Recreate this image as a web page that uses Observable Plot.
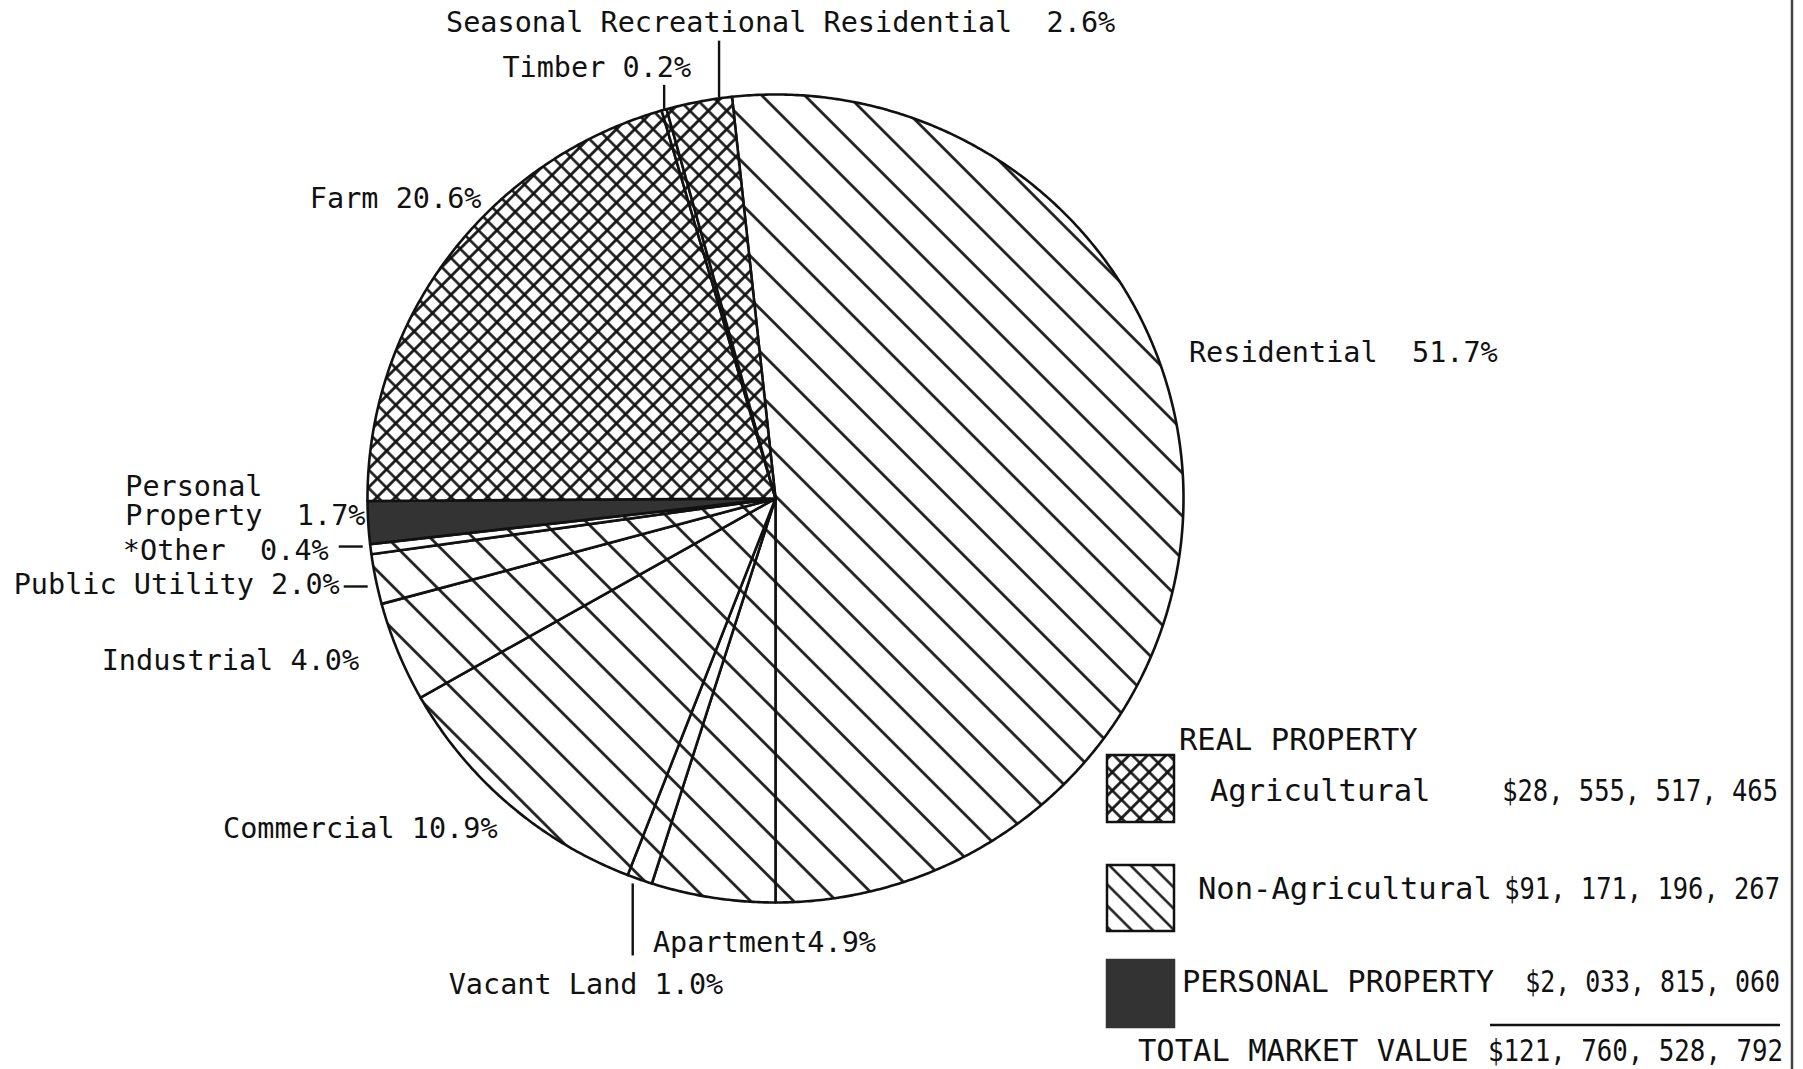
<!DOCTYPE html>
<html>
<head>
<meta charset="utf-8">
<script src="https://cdn.jsdelivr.net/npm/d3@7"></script>
<script src="https://cdn.jsdelivr.net/npm/@observablehq/plot@0.6"></script>
<style>
  html, body { margin: 0; padding: 0; background: #fff; }
  #chart { width: 1803px; height: 1069px; overflow: hidden; }
</style>
</head>
<body>
<div id="chart"></div>
<script>
// ---------------- DATA ----------------
const categories = ["Residential", "Apartment", "Vacant Land", "Commercial", "Industrial",
  "Public Utility", "*Other", "Personal Property", "Farm", "Timber", "Seasonal Recreational Residential"];
const percents = [51.7, 4.9, 1.0, 10.9, 4.0, 2.0, 0.4, 1.7, 20.6, 0.2, 2.6];
const groups = ["Non-Agricultural", "Non-Agricultural", "Non-Agricultural", "Non-Agricultural",
  "Non-Agricultural", "Non-Agricultural", "Non-Agricultural", "Personal",
  "Agricultural", "Agricultural", "Agricultural"];
const labelNames = ["Residential", "Apartment", "Vacant Land", "Commercial", "Industrial",
  "Public Utility", "*Other", "Personal\nProperty", "Farm", "Timber", "Seasonal Recreational Residential"];
const labelGaps = ["  ", "", " ", " ", " ", " ", "  ", "  ", " ", " ", "  "];

const legendTitle = "REAL PROPERTY";
const legendNames = ["Agricultural", "Non-Agricultural", "PERSONAL PROPERTY"];
const legendValues = [28555517465, 91171196267, 2033815060];
const totalName = "TOTAL MARKET VALUE";
const totalValue = 121760528792;

// ---------------- LAYOUT ----------------
const W = 1803, H = 1069;
const cx = 775, cy = 498, rx = 408, ry = 404;
const FONT = "'DejaVu Sans Mono', monospace";
const INK = "#111";

// label offsets (px) relative to the rim point at each slice's mid-angle
const layout = {
  "Residential": {anchor: "start", dx: 6, dy: -124},
  "Apartment": {anchor: "start", dx: -60, dy: 45},
  "Vacant Land": {anchor: "start", dx: -191, dy: 105, leader: [-7, 4, -7, 76]},
  "Commercial": {anchor: "end", dx: -11, dy: 25},
  "Industrial": {anchor: "end", dx: -39, dy: 9},
  "Public Utility": {anchor: "end", dx: -36, dy: 6, leader: [-32, 7.3, -8, 7.3]},
  "*Other": {anchor: "end", dx: -42, dy: 2, leader: [-32, -2.6, -8, -2.6]},
  "Personal Property": {anchor: "start", dx: -243, dy: -21},
  "Farm": {anchor: "end", dx: 33, dy: -58},
  "Timber": {anchor: "end", dx: 27, dy: -42, leader: [0, -25, 0, -1]},
  "Seasonal Recreational Residential": {anchor: "start", dx: -253, dy: -79, leader: [20, -61, 20, -4]}
};

// ---------------- GEOMETRY FROM DATA ----------------
const total = d3.sum(percents);
const startDeg = 180 - percents[0] / total * 360; // Residential ends at the bottom
let acc = startDeg;
const slices = categories.map((name, i) => {
  const a0 = acc, a1 = acc + percents[i] / total * 360;
  acc = a1;
  return {name, group: groups[i], a0, a1, mid: (a0 + a1) / 2, i};
});
const fills = {"Agricultural": "url(#agri)", "Non-Agricultural": "url(#nonag)", "Personal": "#333"};
const rad = d => d * Math.PI / 180;

const pts = slices.flatMap(s => {
  const n = Math.max(2, Math.ceil((s.a1 - s.a0) / 0.4));
  const arc = d3.range(n + 1).map(k => {
    const a = rad(s.a0 + (s.a1 - s.a0) * k / n);
    return {name: s.name, fill: fills[s.group], x: Math.sin(a), y: Math.cos(a)};
  });
  const c = {name: s.name, fill: fills[s.group], x: 0, y: 0};
  return [c, ...arc, c];
});

const labels = slices.map(s => {
  const L = layout[s.name];
  const a = rad(s.mid);
  const ux = Math.sin(a), uy = Math.cos(a);
  return {
    text: labelNames[s.i] + labelGaps[s.i] + percents[s.i].toFixed(1) + "%",
    anchor: L.anchor, L, ux, uy,
    x: ux + L.dx / rx, y: uy - L.dy / ry
  };
});
const leaders = labels.filter(l => l.L.leader).map(l => {
  const [ax, ay, bx, by] = l.L.leader;
  return {x1: l.ux + ax / rx, y1: l.uy - ay / ry, x2: l.ux + bx / rx, y2: l.uy - by / ry};
});

const textOpts = {x: "x", y: "y", text: "text", fontSize: 28.5, fill: INK, lineHeight: 1.0, fontFamily: FONT};

const plot = Plot.plot({
  width: W, height: H, margin: 0,
  x: {domain: [-1, 1], range: [cx - rx, cx + rx], axis: null},
  y: {domain: [-1, 1], range: [cy + ry, cy - ry], axis: null},
  color: {type: "identity"},
  style: {background: "#fff", fontFamily: FONT, overflow: "visible"},
  marks: [
    Plot.line(pts, {x: "x", y: "y", z: "name", fill: "fill", stroke: INK, strokeWidth: 2.6,
      strokeLinejoin: "round", curve: "linear"}),
    Plot.link(leaders, {x1: "x1", y1: "y1", x2: "x2", y2: "y2", stroke: INK, strokeWidth: 2.4}),
    Plot.text(labels.filter(d => d.anchor === "start"), {...textOpts, textAnchor: "start"}),
    Plot.text(labels.filter(d => d.anchor === "end"), {...textOpts, textAnchor: "end"})
  ]
});

document.getElementById("chart").appendChild(plot);

// ---------------- PATTERNS ----------------
const svg = d3.select(plot);
const defs = svg.insert("defs", ":first-child");
function hatch(id, size, angle, width, cross) {
  const p = defs.append("pattern").attr("id", id)
    .attr("patternUnits", "userSpaceOnUse")
    .attr("width", size).attr("height", size)
    .attr("patternTransform", `rotate(${angle})`);
  p.append("rect").attr("width", size).attr("height", size).attr("fill", "#fff");
  let d = `M${size / 2},0V${size}`;
  if (cross) d += `M0,${size / 2}H${size}`;
  p.append("path").attr("d", d).attr("stroke", INK).attr("stroke-width", width).attr("fill", "none");
}
hatch("agri", 13, 45, 2.7, true);
hatch("nonag", 30.4, -45, 2.6, false);
hatch("nonagSw", 15, -45, 2.4, false);

// ---------------- LEGEND ----------------
const fmt = v => "$" + d3.format(",")(v).replace(/,/g, ", ");
const lg = svg.append("g").attr("font-family", FONT).attr("fill", INK).attr("font-size", 30.5)
  .attr("text-anchor", "start");
lg.append("text").attr("x", 1179).attr("y", 750).attr("text-anchor", "start").text(legendTitle);

// value text right-aligned at `right`, squeezed horizontally to width `len`
function valueText(str, right, base, len) {
  const t = lg.append("text").attr("text-anchor", "end").text(str);
  const natural = t.node().getComputedTextLength() || len;
  const sx = Math.min(1, len / natural);
  t.attr("transform", `translate(${right},${base}) scale(${sx},1)`);
}

const rows = [
  {y: 755, h: 67, fill: "url(#agri)", tx: 1210, base: 801, vx: 1778, vlen: 276},
  {y: 865, h: 66, fill: "url(#nonagSw)", tx: 1198, base: 899, vx: 1780, vlen: 276},
  {y: 960, h: 67, fill: "#333", tx: 1182, base: 992, vx: 1780, vlen: 255}
];
rows.forEach((r, i) => {
  lg.append("rect").attr("x", 1107).attr("y", r.y).attr("width", 67).attr("height", r.h)
    .attr("fill", r.fill).attr("stroke", i === 2 ? "#333" : INK).attr("stroke-width", 2.5);
  lg.append("text").attr("x", r.tx).attr("y", r.base).attr("text-anchor", "start").text(legendNames[i]);
  valueText(fmt(legendValues[i]), r.vx, r.base, r.vlen);
});
lg.append("line").attr("x1", 1490).attr("x2", 1780).attr("y1", 1025).attr("y2", 1025)
  .attr("stroke", INK).attr("stroke-width", 2.5);
lg.append("text").attr("x", 1138).attr("y", 1061).attr("text-anchor", "start").text(totalName);
valueText(fmt(totalValue), 1783, 1061, 295);

// page edge
svg.append("line").attr("x1", 1792).attr("x2", 1792).attr("y1", 0).attr("y2", H)
  .attr("stroke", "#444").attr("stroke-width", 2.5);
</script>
</body>
</html>
